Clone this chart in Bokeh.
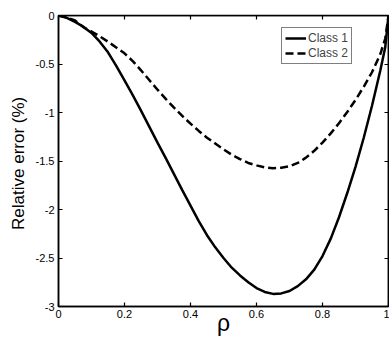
from bokeh.plotting import figure
from bokeh.models import LinearAxis, FixedTicker, Legend, LegendItem, Range1d
from bokeh.embed import file_html
from bokeh.resources import INLINE

rho = [0.0, 0.025, 0.05, 0.075, 0.10, 0.125, 0.15, 0.175, 0.20, 0.225, 0.25, 0.275,
       0.30, 0.325, 0.35, 0.375, 0.40, 0.425, 0.45, 0.475, 0.50, 0.525, 0.55, 0.575,
       0.60, 0.625, 0.65, 0.675, 0.70, 0.725, 0.75, 0.775, 0.80, 0.825, 0.85, 0.875,
       0.90, 0.925, 0.95, 0.975, 0.99, 1.0]
class1 = [0.0, -0.025, -0.065, -0.115, -0.18, -0.27, -0.38, -0.52, -0.67, -0.82, -0.98, -1.145,
          -1.31, -1.47, -1.635, -1.80, -1.96, -2.12, -2.265, -2.39, -2.50, -2.60, -2.68, -2.75,
          -2.81, -2.85, -2.87, -2.865, -2.84, -2.79, -2.72, -2.62, -2.48, -2.30, -2.08, -1.83,
          -1.56, -1.26, -0.93, -0.57, -0.33, 0.0]
class2 = [0.0, -0.02, -0.05, -0.12, -0.165, -0.215, -0.27, -0.33, -0.39, -0.47, -0.565, -0.665,
          -0.765, -0.86, -0.95, -1.035, -1.115, -1.19, -1.26, -1.32, -1.38, -1.435, -1.48, -1.52,
          -1.545, -1.565, -1.575, -1.57, -1.555, -1.52, -1.465, -1.395, -1.31, -1.215, -1.11, -0.995,
          -0.87, -0.735, -0.585, -0.40, -0.24, 0.0]

x_ticks = [0, 0.2, 0.4, 0.6, 0.8, 1]
x_tick_labels = ["0", "0.2", "0.4", "0.6", "0.8", "1"]
y_ticks = [0, -0.5, -1, -1.5, -2, -2.5, -3]
y_tick_labels = ["0", "-0.5", "-1", "-1.5", "-2", "-2.5", "-3"]

FONT = "Liberation Sans"

p = figure(width=389, height=338, output_backend="svg", toolbar_location=None,
           x_range=Range1d(0, 1), y_range=Range1d(-3, 0),
           min_border_left=58, min_border_right=1, min_border_top=15, min_border_bottom=31,
           x_axis_label="ρ", y_axis_label="Relative  error (%)")
p.grid.visible = False
p.outline_line_color = "black"
p.outline_line_width = 1.5
p.background_fill_color = "white"
p.border_fill_color = "white"

for ax, ticks, labels in ((p.xaxis[0], x_ticks, x_tick_labels), (p.yaxis[0], y_ticks, y_tick_labels)):
    ax.ticker = FixedTicker(ticks=ticks)
    ax.major_label_overrides = {t: l for t, l in zip(ticks, labels)}
    ax.major_tick_in = 4
    ax.major_tick_out = 0
    ax.minor_tick_in = 0
    ax.minor_tick_out = 0
    ax.axis_line_width = 1.5
    ax.major_tick_line_width = 1.2
    ax.major_label_text_font = FONT
    ax.major_label_text_font_size = "11px"
    ax.major_label_text_color = "black"
    ax.axis_label_text_font = FONT
    ax.axis_label_text_font_style = "normal"
    ax.axis_label_text_color = "black"

p.xaxis.major_label_standoff = 3
p.xaxis.axis_label_text_font_size = "23px"
p.xaxis.axis_label_standoff = -11
p.yaxis.major_label_standoff = 4
p.yaxis.axis_label_text_font_size = "17px"
p.yaxis.axis_label_standoff = 5

for loc, ticks, fixed in (("above", x_ticks, 0), ("right", y_ticks, 1)):
    ax = LinearAxis(ticker=FixedTicker(ticks=ticks), major_label_text_font_size="0px",
                    major_label_standoff=0, major_tick_in=4, major_tick_out=0,
                    minor_tick_in=0, minor_tick_out=0, axis_line_width=1.5,
                    major_tick_line_width=1.2, fixed_location=fixed)
    p.add_layout(ax, loc)

r1 = p.line(rho, class1, line_color="black", line_width=2.5)
r2 = p.line(rho, class2, line_color="black", line_width=2.5, line_dash="8 4")

legend = Legend(items=[LegendItem(label="Class 1", renderers=[r1]),
                       LegendItem(label="Class 2", renderers=[r2])],
                location=(223, 242), orientation="vertical",
                border_line_color="black", border_line_width=1.5,
                background_fill_color="white", background_fill_alpha=1,
                label_text_font=FONT, label_text_font_size="12px",
                label_standoff=2, glyph_width=21, glyph_height=14, label_height=14,
                padding=3, spacing=1, margin=0)
p.add_layout(legend)

open("out.html", "w").write(file_html(p, INLINE))
